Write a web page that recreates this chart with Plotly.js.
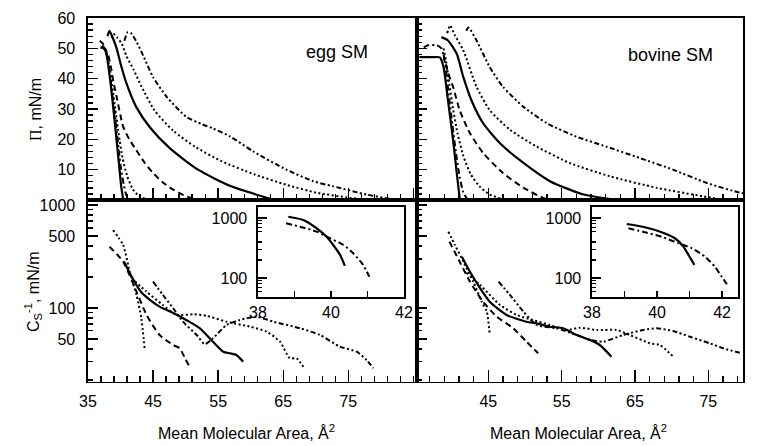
<!DOCTYPE html>
<html><head><meta charset="utf-8">
<script src="https://cdn.plot.ly/plotly-3.0.1.min.js"></script>
<style>html,body{margin:0;padding:0;background:#fff}</style>
</head><body><div id="chart" style="width:760px;height:446px"></div>
<script>
// ---------- egg SM : surface pressure (mN/m) vs mean molecular area (Å2) ----------
var egg1A = [36.9, 37.4, 37.8, 38.2, 38.6, 39.0, 39.4, 39.8, 40.1, 40.4];
var egg1P = [50.3, 50.0, 48.5, 43, 36, 28, 19.5, 11, 4.5, 0.3];
var egg2A = [36.8, 37.3, 37.7, 38.1, 38.5, 38.9, 39.3, 39.7, 40.1, 40.5, 40.9, 41.3];
var egg2P = [52.5, 51.5, 49.5, 45, 39, 32, 25, 17, 10, 5, 1.5, 0.2];
var egg3A = [37.2, 37.7, 38.2, 38.7, 39.2, 39.7, 40.3, 41.0, 41.9, 43.0, 44.5];
var egg3P = [51, 49.5, 45, 38, 30, 22, 14, 8, 3.5, 1, 0.1];
var egg4A = [37.4, 38.0, 38.5, 38.9, 39.4, 40.4, 41.4, 42.4, 43.7, 45.0, 46.5, 48.1, 49.7, 51.2, 52.5];
var egg4P = [50.5, 48.5, 44, 39, 34, 24.2, 19.8, 16.5, 12.3, 8.9, 5.8, 3.4, 1.6, 0.4, 0];
var egg5A = [38.0, 38.3, 38.8, 39.4, 40.0, 40.9, 42.4, 44.5, 47.6, 51.9, 57.0, 62.2, 63.5];
var egg5P = [54.0, 55.8, 53.5, 50, 45, 38.5, 30.7, 24, 17, 10, 4.5, 0.9, 0.1];
var egg6A = [38.6, 38.9, 39.5, 40.2, 40.9, 42.0, 43.2, 45.2, 48.1, 51.5, 55.5, 60.5, 65.5, 70.1, 75.3, 78.0];
var egg6P = [53.5, 54.8, 53.5, 51.5, 47.5, 43, 37.5, 29.6, 22.8, 17.5, 12.8, 8.5, 5.0, 2.4, 0.7, 0];
var egg7A = [40.6, 41.1, 41.6, 42.5, 43.5, 45.0, 47.1, 50.1, 52.5, 54.2, 56.8, 60.4, 65.5, 69.6, 72.7, 77.8, 81.4, 83.5];
var egg7P = [52.5, 55.3, 55.0, 52.0, 47.5, 40.5, 34, 27.4, 25, 23.6, 21, 16, 10, 6.2, 4.5, 1.8, 0.4, 0];

// ---------- bovine SM : surface pressure ----------
var bov1A = [35.6, 36.5, 37.5, 38.4, 38.9, 39.5, 40.2, 40.7, 41.1];
var bov1P = [47.1, 47.1, 47.1, 47.0, 43.8, 32.9, 19.8, 8.9, 0.5];
var bov2A = [36.2, 36.8, 38.0, 38.6, 39.1, 39.6, 40.1, 40.6, 41.1, 41.6, 42.1];
var bov2P = [50.3, 51, 51, 50, 45, 35, 25, 15.5, 7.5, 2.5, 0.3];
var bov3A = [38.9, 39.3, 39.7, 40.2, 40.8, 41.6, 42.6, 43.8, 45.2, 47.0];
var bov3P = [50, 45, 38, 30, 22, 14.5, 8.5, 4.5, 1.8, 0.3];
var bov4A = [38.9, 39.5, 40.2, 41.1, 42.5, 44.3, 47.0, 49.8, 52.5, 53.5];
var bov4P = [48, 42, 37.3, 29.6, 22, 15.5, 8.9, 4.0, 0.7, 0];
var bov5A = [38.6, 39.5, 40.7, 41.6, 42.7, 44.3, 46.6, 49.8, 53.4, 58.0, 62.5];
var bov5P = [53.7, 52.6, 48.2, 40.5, 32.9, 25.3, 18.7, 12.2, 6.2, 1.8, 0];
var bov6A = [39.4, 39.8, 40.4, 41.6, 43.4, 45.2, 48.0, 51.6, 56.1, 61.6, 68.0, 74.3, 77.1];
var bov6P = [55, 57.5, 54.5, 49.3, 37.3, 29.6, 23.1, 17.6, 12.2, 7.8, 4.0, 1.2, 0];
var bov7A = [42.0, 42.3, 43.4, 45.2, 47.0, 49.8, 53.0, 57.0, 61.1, 65.7, 70.2, 74.8, 79.3, 80];
var bov7P = [55.8, 56.9, 52.6, 43.8, 37.3, 30.7, 25.3, 20.9, 17.6, 13.8, 10.0, 5.6, 2.4, 2.1];

// ---------- egg SM : compressional modulus Cs^-1 (mN/m) ----------
var eggC3A = [38.85, 40.4, 41.4, 42.45, 43.2, 43.7];
var eggC3C = [571, 409, 225, 134, 79, 40.6];
var eggC4A = [38.3, 40.4, 42.45, 44.0, 46.0, 48.1, 49.1, 49.9, 50.6];
var eggC4C = [393, 282, 144, 85.5, 54.7, 43.7, 40.6, 32.5, 26.9];
var eggC5A = [40.5, 41.8, 43.2, 44.5, 46.0, 48.5, 50.1, 52.2, 54.2, 55.8, 56.8, 57.8, 58.85];
var eggC5C = [285, 197, 142, 120, 103, 87, 76.4, 63.5, 47.1, 37.6, 36.3, 35, 30.1];
var eggC6A = [42.2, 44.0, 46.5, 48.6, 51.15, 53.2, 56.3, 59.9, 62.45, 64.5, 66.0, 67.05, 68.3];
var eggC6C = [182, 144, 107, 85.5, 86.9, 84, 73.6, 65.8, 58.8, 47.1, 32.5, 32.5, 25.6];
var eggC7A = [45.0, 46.5, 48.1, 49.6, 51.7, 52.95, 54.2, 56.3, 58.3, 60.9, 63.5, 67.6, 70.65, 73.7, 76.3, 77.8, 78.85];
var eggC7C = [180, 134, 99.3, 73.6, 54.7, 44.5, 50.8, 68.4, 76.4, 82.4, 73.6, 63.5, 54.7, 42.1, 37.6, 31.3, 26];
// inset (egg)
var eggInSA = [38.83, 39.24, 39.61, 39.88, 40.06, 40.25, 40.38];
var eggInSC = [1050, 926, 673, 487, 355, 242, 160];
var eggInDA = [38.77, 39.15, 39.61, 39.97, 40.34, 40.61, 40.88, 41.05];
var eggInDC = [816, 716, 591, 459, 355, 258, 165, 105];

// ---------- bovine SM : compressional modulus ----------
var bovC3A = [39.55, 40.46, 41.6, 42.95, 44.1, 44.8, 45.2];
var bovC3C = [551, 409, 282, 180, 115, 92, 54.7];
var bovC4A = [39.7, 41.1, 42.5, 44.3, 46.15, 48.4, 50.2, 51.8];
var bovC4C = [441, 282, 180, 115, 82.4, 63.5, 47.1, 36.3];
var bovC5A = [41.4, 42.5, 43.9, 45.2, 47.5, 50.2, 51.6, 53.4, 55.2, 57.05, 58.9, 60.2, 61.8];
var bovC5C = [315, 225, 155, 115, 85.5, 73.6, 71, 65.8, 63.5, 54.7, 48.9, 43.7, 33.6];
var bovC6A = [42.0, 43.9, 46.6, 48.9, 51.1, 53.4, 55.7, 57.5, 59.8, 62.5, 64.3, 67.05, 68.4, 70.25];
var bovC6C = [220, 167, 107, 85.5, 76.4, 68.4, 61.1, 64.4, 61.1, 61.1, 54.7, 45.4, 43.7, 33.6];
var bovC7A = [46.4, 47.95, 49.8, 51.6, 54.3, 57.05, 58.9, 60.7, 63.4, 66.1, 67.95, 70.2, 72.5, 75.2, 77.05, 79.55];
var bovC7C = [180, 134, 92, 68.4, 63.5, 54.7, 48.9, 47.1, 54.7, 61.1, 63.5, 59.8, 52.6, 45.4, 40.6, 36.3];
// inset (bovine)
var bovInSA = [39.07, 39.63, 40.14, 40.55, 40.81, 41.0, 41.15];
var bovInSC = [794, 700, 578, 459, 333, 226, 165];
var bovInDA = [39.12, 39.63, 40.14, 40.66, 41.07, 41.48, 41.78, 41.99, 42.2];
var bovInDC = [673, 578, 487, 378, 313, 226, 154, 105, 71.6];

// tick labels
var piTicks = [10, 20, 30, 40, 50, 60];
var csTicks = [50, 100, 500, 1000];
var csTickText = ['50', '100', '500', '1000'];
var areaTicksL = [35, 45, 55, 65, 75];
var areaTicksR = [45, 55, 65, 75];
var insetXTicks = [38, 40, 42];
var insetXMinor = [39, 41];
var insetYTicks = [100, 1000];
var insetYText = ['100', '1000'];
var logMinor = [20, 30, 40, 60, 70, 80, 90, 200, 300, 400, 600, 700, 800, 900, 2000];

// ---------- styles ----------
function st(kind) {
  var m = {
    solid: {width: 2.2, dash: 'solid'},
    dot: {width: 2, dash: '2px,2.5px'},
    dash: {width: 2, dash: '6px,4px'},
    dashdot: {width: 2, dash: '6px,3px,2px,3px'},
    dashdotdot: {width: 2, dash: '5px,2.5px,2px,2.5px,2px,2.5px'}
  }[kind];
  return {color: '#000', width: m.width, dash: m.dash, shape: 'spline', smoothing: 0.6};
}
function tr(x, y, xa, ya, kind) {
  return {x: x, y: y, xaxis: xa, yaxis: ya, type: 'scatter', mode: 'lines', line: st(kind), showlegend: false, hoverinfo: 'skip'};
}
var data = [
  tr(egg1A, egg1P, 'x', 'y', 'solid'), tr(egg2A, egg2P, 'x', 'y', 'dashdot'), tr(egg3A, egg3P, 'x', 'y', 'dot'),
  tr(egg4A, egg4P, 'x', 'y', 'dash'), tr(egg5A, egg5P, 'x', 'y', 'solid'), tr(egg6A, egg6P, 'x', 'y', 'dot'),
  tr(egg7A, egg7P, 'x', 'y', 'dashdotdot'),
  tr(bov1A, bov1P, 'x2', 'y2', 'solid'), tr(bov2A, bov2P, 'x2', 'y2', 'dashdot'), tr(bov3A, bov3P, 'x2', 'y2', 'dot'),
  tr(bov4A, bov4P, 'x2', 'y2', 'dash'), tr(bov5A, bov5P, 'x2', 'y2', 'solid'), tr(bov6A, bov6P, 'x2', 'y2', 'dot'),
  tr(bov7A, bov7P, 'x2', 'y2', 'dashdotdot'),
  tr(eggC3A, eggC3C, 'x3', 'y3', 'dot'), tr(eggC4A, eggC4C, 'x3', 'y3', 'dash'), tr(eggC5A, eggC5C, 'x3', 'y3', 'solid'),
  tr(eggC6A, eggC6C, 'x3', 'y3', 'dot'), tr(eggC7A, eggC7C, 'x3', 'y3', 'dashdotdot'),
  tr(bovC3A, bovC3C, 'x4', 'y4', 'dot'), tr(bovC4A, bovC4C, 'x4', 'y4', 'dash'), tr(bovC5A, bovC5C, 'x4', 'y4', 'solid'),
  tr(bovC6A, bovC6C, 'x4', 'y4', 'dot'), tr(bovC7A, bovC7C, 'x4', 'y4', 'dashdotdot'),
  tr(eggInSA, eggInSC, 'x5', 'y5', 'solid'), tr(eggInDA, eggInDC, 'x5', 'y5', 'dashdot'),
  tr(bovInSA, bovInSC, 'x6', 'y6', 'solid'), tr(bovInDA, bovInDC, 'x6', 'y6', 'dashdot')
];

// ---------- layout ----------
var W = 760, H = 446;
function dx(a, b) { return [a / W, b / W]; }
function dy(top, bottom) { return [1 - bottom / H, 1 - top / H]; }
var FAM = 'Liberation Sans, Arial, sans-serif';
function F(size) { return {family: FAM, size: size, color: '#000'}; }
function ax(extra) {
  return Object.assign({showline: true, linecolor: '#000', linewidth: 1.6, mirror: true, ticks: 'inside',
    tickcolor: '#000', tickwidth: 1.5, showgrid: false, zeroline: false}, extra);
}
function xMinor() { return {tickmode: 'linear', tick0: 35, dtick: 2, ticks: 'inside', ticklen: 6, tickcolor: '#000', tickwidth: 1.3}; }
function yMinorLin() { return {tickmode: 'linear', tick0: 0, dtick: 2, ticks: 'inside', ticklen: 5, tickcolor: '#000', tickwidth: 1.3}; }
function yMinorLog(len) { return {tickmode: 'array', tickvals: logMinor.slice(), ticks: 'inside', ticklen: len, tickcolor: '#000', tickwidth: 1.3}; }
function inXMinor() { return {tickmode: 'array', tickvals: insetXMinor.slice(), ticks: 'inside', ticklen: 6, tickcolor: '#000', tickwidth: 1.5}; }

var layout = {
  width: W, height: H, margin: {l: 0, r: 0, t: 0, b: 0}, showlegend: false,
  font: F(16),
  xaxis: ax({domain: dx(88, 417), range: [35, 85.55], anchor: 'y', tickmode: 'linear', tick0: 35, dtick: 10, ticklen: 12, showticklabels: false, minor: xMinor()}),
  yaxis: ax({domain: dy(18, 200), range: [0, 60], anchor: 'x', tickmode: 'array', tickvals: piTicks, ticklen: 10, minor: yMinorLin(), ticklabelstandoff: 8}),
  xaxis2: ax({domain: dx(417, 743), range: [35.28, 79.73], anchor: 'y2', tickmode: 'linear', tick0: 35, dtick: 10, ticklen: 12, showticklabels: false, minor: xMinor()}),
  yaxis2: ax({domain: dy(18, 200), range: [0, 60], anchor: 'x2', tickmode: 'array', tickvals: piTicks, ticklen: 10, minor: yMinorLin(), showticklabels: false}),
  xaxis3: ax({domain: dx(88, 417), range: [35, 85.55], anchor: 'y3', tickmode: 'array', tickvals: areaTicksL, ticklen: 12, minor: xMinor(), ticklabelstandoff: 5}),
  yaxis3: ax({domain: dy(200, 381.5), type: 'log', range: [1.286, 3.049], anchor: 'x3', tickmode: 'array', tickvals: csTicks, ticktext: csTickText, ticklen: 10, minor: yMinorLog(5), ticklabelstandoff: 8}),
  xaxis4: ax({domain: dx(417, 743), range: [35.28, 79.73], anchor: 'y4', tickmode: 'array', tickvals: areaTicksR, ticklen: 12, minor: xMinor(), ticklabelstandoff: 5}),
  yaxis4: ax({domain: dy(200, 381.5), type: 'log', range: [1.286, 3.049], anchor: 'x4', tickmode: 'array', tickvals: csTicks, ticklen: 10, minor: yMinorLog(5), showticklabels: false}),
  xaxis5: ax({domain: dx(258, 404), range: [38, 42], anchor: 'y5', tickmode: 'array', tickvals: insetXTicks, ticklen: 6, minor: inXMinor()}),
  yaxis5: ax({domain: dy(207, 297), type: 'log', range: [1.683, 3.183], anchor: 'x5', tickmode: 'array', tickvals: insetYTicks, ticktext: insetYText, ticklen: 9, minor: yMinorLog(4), ticklabelstandoff: 6}),
  xaxis6: ax({domain: dx(592, 738), range: [38, 42.49], anchor: 'y6', tickmode: 'array', tickvals: insetXTicks, ticklen: 6, minor: inXMinor()}),
  yaxis6: ax({domain: dy(207, 297), type: 'log', range: [1.683, 3.183], anchor: 'x6', tickmode: 'array', tickvals: insetYTicks, ticktext: insetYText, ticklen: 9, minor: yMinorLog(4), ticklabelstandoff: 6}),
  annotations: [
    {text: 'egg SM', xref: 'paper', yref: 'paper', x: 337 / W, y: 1 - 52 / H, showarrow: false, xanchor: 'center', yanchor: 'middle', font: F(18)},
    {text: 'bovine SM', xref: 'paper', yref: 'paper', x: 670 / W, y: 1 - 55 / H, showarrow: false, xanchor: 'center', yanchor: 'middle', font: F(18)},
    {text: "<span style=\"font-family:'Liberation Serif'\">Π</span>, mN/m", xref: 'paper', yref: 'paper', x: 35 / W, y: 1 - 110 / H, textangle: -90, showarrow: false, xanchor: 'center', yanchor: 'middle', font: F(16)},
    {text: 'C<sub>S</sub><sup>-1</sup>, mN/m', xref: 'paper', yref: 'paper', x: 33 / W, y: 1 - 292 / H, textangle: -90, showarrow: false, xanchor: 'center', yanchor: 'middle', font: F(16)},
    {text: 'Mean Molecular Area, Å<sup>2</sup>', xref: 'paper', yref: 'paper', x: 246 / W, y: 1 - 432 / H, showarrow: false, xanchor: 'center', yanchor: 'middle', font: F(16)},
    {text: 'Mean Molecular Area, Å<sup>2</sup>', xref: 'paper', yref: 'paper', x: 578 / W, y: 1 - 432 / H, showarrow: false, xanchor: 'center', yanchor: 'middle', font: F(16)}
  ]
};
Plotly.newPlot('chart', data, layout, {displayModeBar: false, staticPlot: true});
</script></body></html>
